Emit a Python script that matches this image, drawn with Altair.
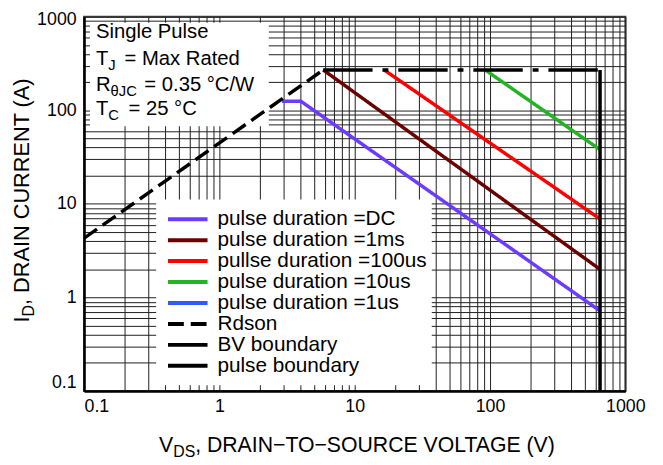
import altair as alt
import pandas as pd

FONT = "Liberation Sans"

# ---------------- data ----------------
series_names = ["pulse duration =DC", "pulse duration =1ms", "pullse duration =100us",
                "pulse duration =10us", "pulse duration =1us", "Rdson",
                "BV boundary", "pulse boundary"]
series_colors = ["#6b3cff", "#6b0000", "#ff0000", "#22b422", "#2d5bff",
                 "#000000", "#000000", "#000000"]
series_dashes = [[1, 0], [1, 0], [1, 0], [1, 0], [1, 0], [16, 7], [1, 0], [1, 0]]

dc_v = [2.9, 4.0, 650]
dc_i = [125, 125, 0.72]
ms1_v = [5.85, 650]
ms1_i = [270, 2.0]
us100_v = [16.5, 650]
us100_i = [270, 6.9]
us10_v = [92, 650]
us10_i = [270, 38]
rdson_v = [0.1, 5.85]
rdson_i = [4.3, 270]
bv_v = [650, 650]
bv_i = [270, 0.1]
pulse_v = [5.85, 650]
pulse_i = [270, 270]

decades = [0.1, 1, 10, 100]
multipliers = [1, 2, 3, 4, 5, 6, 7, 8, 9]
major_ticks = [0.1, 1, 10, 100, 1000]
grid_values = [m * d for d in decades for m in multipliers] + [1000]

rows = []
for name, vs, cs in [("pulse duration =DC", dc_v, dc_i),
                     ("pulse duration =1ms", ms1_v, ms1_i),
                     ("pullse duration =100us", us100_v, us100_i),
                     ("pulse duration =10us", us10_v, us10_i),
                     ("Rdson", rdson_v, rdson_i),
                     ("BV boundary", bv_v, bv_i)]:
    for k, (v, c) in enumerate(zip(vs, cs)):
        rows.append({"V": v, "I": c, "series": name, "order": k})
df = pd.DataFrame(rows)
pulse_df = pd.DataFrame({"V": pulse_v, "I": pulse_i})

# ---------------- scales / axes ----------------
xscale = alt.Scale(type="log", domain=[0.1, 1000], nice=False)
yscale = alt.Scale(type="log", domain=[0.1, 1000], nice=False)
label_expr = "indexof(%s, datum.value) >= 0 ? datum.label : ''" % str(major_ticks)

common_axis = dict(values=grid_values, grid=True, gridColor="#1e1e1e", gridWidth=1,
                   gridOpacity=1, ticks=False, domain=True, domainColor="black",
                   domainWidth=2.5, labelFont=FONT, labelFontSize=18, labelColor="black",
                   title=None, format="~g", labelExpr=label_expr, labelOverlap=False,
                   labelFlush=False, labelBound=False)

x_axis = alt.Axis(labelPadding=7,
                  labelAlign={"condition": {"test": "datum.value <= 0.1", "value": "left"},
                              "value": "center"},
                  **common_axis)
y_axis = alt.Axis(labelPadding=8,
                  labelBaseline={"condition": {"test": "datum.value <= 0.1", "value": "bottom"},
                                 "value": "middle"},
                  labelOffset={"condition": {"test": "datum.value >= 1000", "value": 3},
                               "value": 0},
                  **common_axis)

legend = alt.Legend(orient="none", legendX=73, legendY=185, title=None,
                    symbolType="stroke", symbolSize=1600, symbolStrokeWidth=4,
                    labelFont=FONT, labelFontSize=21, labelColor="black",
                    labelOffset=8, labelLimit=400, padding=10, rowPadding=0.2,
                    clipHeight=20)

lines = alt.Chart(df).mark_line(strokeWidth=3.5, clip=True).encode(
    x=alt.X("V:Q", scale=xscale, axis=x_axis),
    y=alt.Y("I:Q", scale=yscale, axis=y_axis),
    color=alt.Color("series:N", scale=alt.Scale(domain=series_names, range=series_colors),
                    legend=legend),
    strokeDash=alt.StrokeDash("series:N",
                              scale=alt.Scale(domain=series_names, range=series_dashes),
                              legend=legend),
    detail="series:N",
    order="order:Q",
)

pulse_line = alt.Chart(pulse_df).mark_line(strokeWidth=3.5, color="black",
                                           strokeDash=[50, 10, 6, 10], clip=True).encode(
    x=alt.X("V:Q", scale=xscale),
    y=alt.Y("I:Q", scale=yscale),
)


def box(x1, x2, y1, y2):
    return alt.Chart(alt.Data(values=[{}])).mark_rect(fill="white", stroke=None).encode(
        x=alt.value(x1), x2=alt.value(x2), y=alt.value(y1), y2=alt.value(y2))


def txt(s, x, y, size, align="left", angle=0):
    return alt.Chart(alt.Data(values=[{}])).mark_text(
        text=s, align=align, baseline="alphabetic", font=FONT, fontSize=size,
        color="black", angle=angle).encode(x=alt.value(x), y=alt.value(y))


BIG = 20.5
SUB = 15
TSUB = 16
texts = [
    txt("Single Pulse", 12, 22, BIG),
    txt("T", 24.5, 49, BIG, align="right"),
    txt("J", 24.5, 54, SUB),
    txt("= Max Rated", 41, 49, BIG),
    txt("R", 26.8, 75, BIG, align="right"),
    txt("\u03b8JC", 26.8, 80, SUB),
    txt("= 0.35 \u00b0C/W", 61, 75, BIG),
    txt("T", 24.5, 100, BIG, align="right"),
    txt("C", 24.5, 105, SUB),
    txt("= 25 \u00b0C", 45, 100, BIG),
    # x title
    txt("V", 90.3, 441, 21.5, align="right"),
    txt("DS", 90.3, 446, TSUB),
    txt(", DRAIN\u2212TO\u2212SOURCE VOLTAGE (V)", 112.5, 441, 21.5),
    # y title
    txt("I", -56, 303.4, 22, align="right", angle=270),
    txt("D", -51, 303.4, TSUB, angle=270),
    txt(", DRAIN CURRENT (A)", -56, 291.8, 22, angle=270),
]

chart = alt.layer(
    box(6, 187, 6, 111),
    box(73, 352, 185, 373),
    lines,
    pulse_line,
    *texts,
).properties(
    width=548, height=379,
    autosize=alt.AutoSizeParams(type="none"),
    padding={"left": 77, "top": 6, "right": 30, "bottom": 72},
).configure_view(stroke="#444", strokeWidth=2)

chart.save("out.html", embed_options={"renderer": "svg", "actions": False})
